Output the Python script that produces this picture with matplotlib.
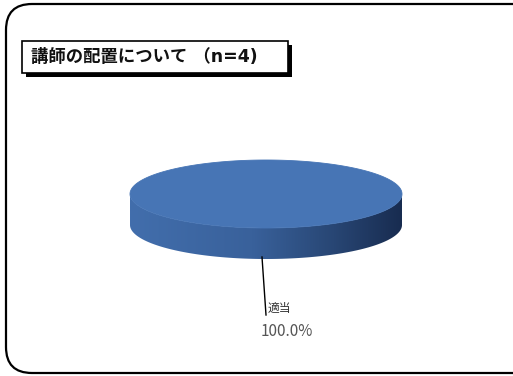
import numpy as np
import matplotlib
matplotlib.use("Agg")
import matplotlib.pyplot as plt
from matplotlib.patches import Polygon, Rectangle, FancyBboxPatch
from matplotlib.colors import LinearSegmentedColormap

plt.rcParams['font.family'] = ['Noto Sans CJK JP', 'DejaVu Sans']

# Data
title = "講師の配置について （n=4)"
categories = ["適当"]
values = [100.0]

# Figure in pixel space
W, H = 513, 376
fig = plt.figure(figsize=(W / 100, H / 100), dpi=100)
ax = fig.add_axes([0, 0, 1, 1])
ax.set_xlim(0, W)
ax.set_ylim(H, 0)
ax.axis("off")

# Outer rounded chart frame
frame = FancyBboxPatch((6, 4), 540, 369,
                       boxstyle="round,pad=0,rounding_size=26",
                       facecolor="white", edgecolor="black", linewidth=1.6)
ax.add_patch(frame)

# Title box with drop shadow
ax.add_patch(Rectangle((26, 45), 266, 32, facecolor="black", edgecolor="none"))
ax.add_patch(Rectangle((22, 41), 266, 32, facecolor="white",
                       edgecolor="black", linewidth=1.2))
ax.text(31, 57.5, title, fontsize=12.5, fontweight="bold", color="#111111",
        ha="left", va="center", family=['DejaVu Sans', 'Noto Sans CJK JP'])

# 3D pie geometry
cx, cy, rx, ry, depth = 266, 194, 136, 34, 31
top_color = (71 / 255, 117 / 255, 181 / 255)

total = sum(values)
start = 90.0
t = np.linspace(0, np.pi, 200)

# Side wall (front half) with horizontal shading
lower_x = cx + rx * np.cos(t)
lower_y = cy + ry * np.sin(t)
side_pts = np.vstack([np.column_stack([lower_x, lower_y]),
                      np.column_stack([lower_x[::-1], lower_y[::-1] + depth])])
side_poly = Polygon(side_pts, closed=True, facecolor="none", edgecolor="none")
ax.add_patch(side_poly)
side_cmap = LinearSegmentedColormap.from_list(
    "side", [(0.0, (66 / 255, 110 / 255, 172 / 255)),
             (0.45, (57 / 255, 97 / 255, 155 / 255)),
             (0.75, (40 / 255, 70 / 255, 116 / 255)),
             (1.0, (24 / 255, 44 / 255, 80 / 255))])
grad = np.tile(np.linspace(0, 1, 256), (16, 1))
im = ax.imshow(grad, cmap=side_cmap, extent=(cx - rx, cx + rx, cy + ry + depth, cy - ry),
               aspect="auto", zorder=2, interpolation="bilinear")
im.set_clip_path(side_poly)

# Top face, one sector per value
for v in values:
    a0 = np.deg2rad(start)
    a1 = np.deg2rad(start - 360.0 * v / total)
    ang = np.linspace(a0, a1, 400)
    pts = np.column_stack([cx + rx * np.cos(ang), cy - ry * np.sin(ang)])
    if v < total:
        pts = np.vstack([[cx, cy], pts])
    ax.add_patch(Polygon(pts, closed=True, facecolor=top_color,
                         edgecolor=top_color, linewidth=0.6, zorder=3))

# Data labels with leader lines
acc = 0.0
for cat, v in zip(categories, values):
    mid = np.deg2rad(start - 360.0 * (acc + v / 2) / total)
    acc += v
    px = cx + rx * np.cos(mid) - 4
    py = cy - ry * np.sin(mid) + depth - 2
    lx, ly = px + 4, py + 58
    ax.plot([px, lx], [py, ly], color="black", linewidth=1.0, zorder=4)
    ax.text(lx + 2, ly - 7, cat, fontsize=8.5, color="#333333",
            ha="left", va="center")
    ax.text(lx + 21, ly + 17, f"{v:.1f}%", fontsize=11, color="#555555",
            ha="center", va="center")

fig.savefig("out.png", dpi=100)
